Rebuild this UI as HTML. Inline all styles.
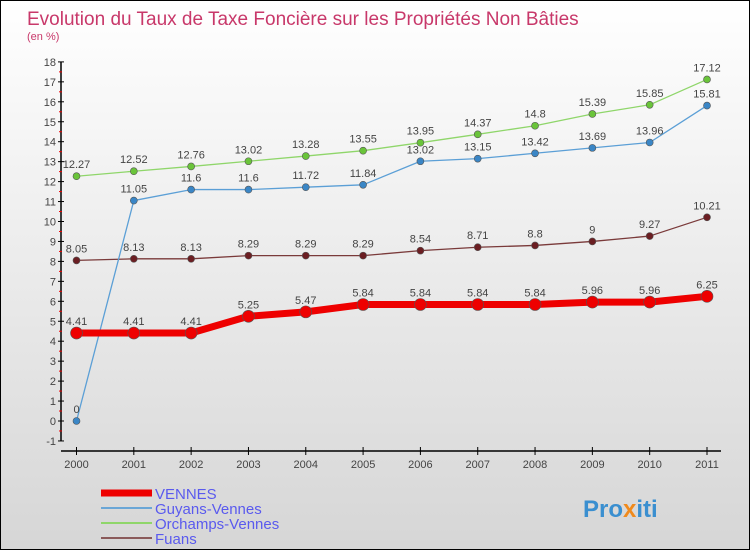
<!DOCTYPE html>
<html><head><meta charset="utf-8"><style>
body{margin:0}
#c{width:750px;height:550px;position:relative;box-sizing:border-box;border:1px solid #000;background:linear-gradient(#fff,#d6d6d6);overflow:hidden;font-family:"Liberation Sans",sans-serif}
</style></head><body>
<div id="c">
<svg id="s" width="748" height="548" style="position:absolute;left:0;top:0">
<text x="26" y="24" font-size="19" fill="#c8386a">Evolution du Taux de Taxe Foncière sur les Propriétés Non Bâties</text>
<text x="26" y="39" font-size="11" fill="#c8386a">(en %)</text>
<g id="axes"></g><g id="series"></g><g id="legend"></g>
<text x="582" y="516" font-size="24" font-weight="bold" fill="#3a8fd0">Pro<tspan fill="#f08a1c">x</tspan>iti</text>
</svg>
</div>
<script>
const years=[2000,2001,2002,2003,2004,2005,2006,2007,2008,2009,2010,2011];
const vennes=[4.41,4.41,4.41,5.25,5.47,5.84,5.84,5.84,5.84,5.96,5.96,6.25];
const guyans=[0,11.05,11.6,11.6,11.72,11.84,13.02,13.15,13.42,13.69,13.96,15.81];
const orchamps=[12.27,12.52,12.76,13.02,13.28,13.55,13.95,14.37,14.8,15.39,15.85,17.12];
const fuans=[8.05,8.13,8.13,8.29,8.29,8.29,8.54,8.71,8.8,9,9.27,10.21];
const yTicks=[-1,0,1,2,3,4,5,6,7,8,9,10,11,12,13,14,15,16,17,18];
const NS="http://www.w3.org/2000/svg";
const X=i=>75.5+i*(630.5/11);
const Y=v=>420-v*19.95;
function mk(tag,attrs,parent,txt){const e=document.createElementNS(NS,tag);for(const k in attrs)e.setAttribute(k,attrs[k]);if(txt!==undefined)e.textContent=txt;parent.appendChild(e);return e;}
const ax=document.getElementById('axes');
let e=mk('line',{x1:60,y1:Y(18),x2:60,y2:Y(-1),stroke:'#000','stroke-width':1.5},ax);

e=mk('line',{x1:60,y1:450,x2:720,y2:450,stroke:'#000','stroke-width':1.5},ax);

yTicks.forEach(t=>{
 mk('line',{x1:57,y1:Y(t),x2:63,y2:Y(t),stroke:'#000'},ax);
 if(t<18)mk('line',{x1:58,y1:Y(t+0.5),x2:61,y2:Y(t+0.5),stroke:'#e00'},ax);
 e=mk('text',{x:55,y:Y(t)+4,'font-size':11,fill:'#444','text-anchor':'end'},ax,String(t));
 
});
years.forEach((y,i)=>{
 mk('line',{x1:X(i),y1:446,x2:X(i),y2:454,stroke:'#000'},ax);
 e=mk('text',{x:X(i),y:467,'font-size':11,fill:'#444','text-anchor':'middle'},ax,String(y));
 
});
const sg=document.getElementById('series');
function series(vals,color,w,r,dot,name){
 const g=mk('g',{},sg);
 
 mk('polyline',{points:vals.map((v,i)=>X(i)+','+Y(v)).join(' '),fill:'none',stroke:color,'stroke-width':w,'stroke-linejoin':'round'},g);
 vals.forEach((v,i)=>{
  const c=mk('circle',{cx:X(i),cy:Y(v),r:r,fill:dot,stroke:'#555','stroke-width':0.6},g);
  
  const t=mk('text',{x:X(i),y:Y(v)-8,'font-size':11,fill:'#444','text-anchor':'middle'},g,String(v));
  
 });
}
series(fuans,'#7a3a3a',1.3,3.5,'#6b1e22','fuans');
series(orchamps,'#8fd66a',1.3,3.5,'#6ac43a','orchamps');
series(guyans,'#5b9fd6',1.3,3.5,'#3a86c6','guyans');
series(vennes,'#ee0000',7,6,'#ee0000','vennes');
const lg=document.getElementById('legend');
[['VENNES','#ee0000',7],['Guyans-Vennes','#6aa6d6',2],['Orchamps-Vennes','#8fd66a',2],['Fuans','#8a5a5a',2]].forEach((d,i)=>{
 const y=492+i*15;
 const g=mk('g',{},lg);
 
 mk('line',{x1:100,y1:y,x2:151,y2:y,stroke:d[1],'stroke-width':d[2]},g);
 mk('text',{x:154,y:y+6,'font-size':15,fill:'#5a5aee'},g,d[0]);
});
</script>
</body></html>
